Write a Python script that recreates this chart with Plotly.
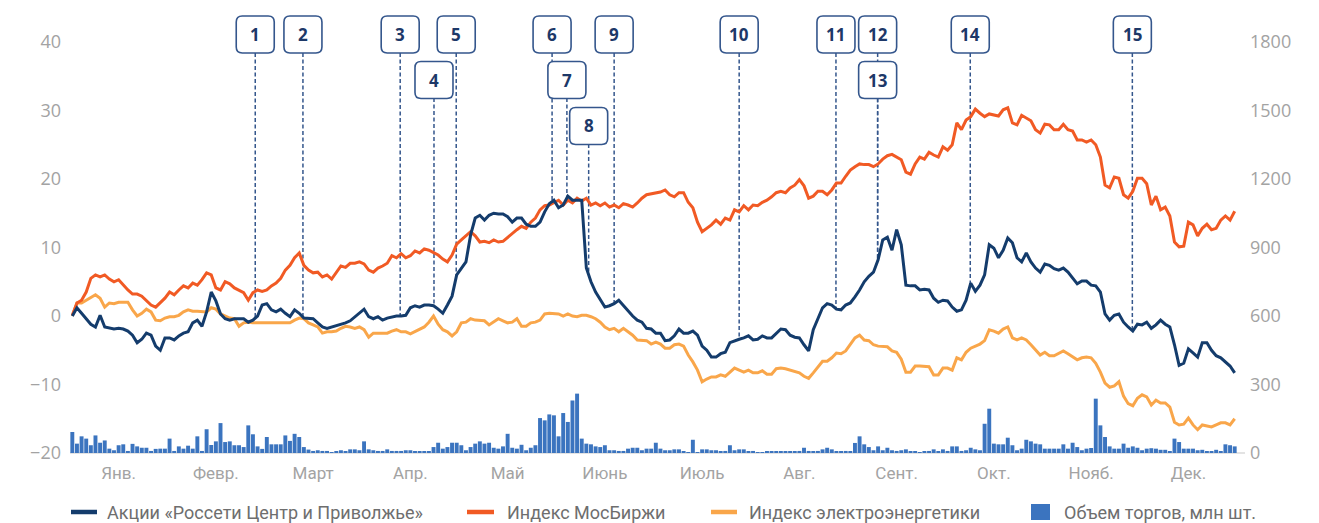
import numpy as np
import plotly.graph_objects as go

# ---- data: one value per trading day, 21 trading days per month ----
months = ["Янв.", "Февр.", "Март", "Апр.", "Май", "Июнь",
          "Июль", "Авг.", "Сент.", "Окт.", "Нояб.", "Дек."]
days_per_month = 21

# change since start of year, %
rosseti = [
    0.0, 1.2, 0.4, -0.4, -1.2, -1.6, 0.1, -1.6, -1.8, -1.9, -1.8, -1.9, -2.2, -2.8, -3.9, -3.4, -2.5, -2.8, -4.4, -5.0, -3.2,
    -3.2, -3.5, -2.9, -2.5, -2.3, -1.0, -0.6, -1.5, 0.6, 3.5, 2.2, 0.3, -0.4, -0.6, -0.4, -0.4, -0.4, -0.9, -0.6, 0.0, 1.6,
    1.8, 0.9, 0.6, 1.0, 0.4, -0.1, 0.9, 0.4, -0.3, -0.3, -0.4, -1.0, -1.6, -1.8, -1.6, -1.5, -1.3, -1.0, -0.7, -0.1, 0.4,
    1.0, -0.1, -0.4, -0.1, -0.6, -0.3, -0.1, 0.0, 0.0, 0.1, 1.2, 1.5, 1.3, 1.6, 1.6, 1.5, 1.0, 0.4, 1.6, 2.9, 6.0,
    7.0, 7.9, 11.8, 14.3, 14.7, 14.0, 14.7, 15.0, 14.9, 14.9, 14.5, 13.7, 14.3, 14.3, 13.4, 13.1, 13.1, 13.7, 15.2, 16.4, 16.9,
    15.8, 16.2, 17.5, 16.9, 16.9, 16.9, 7.0, 5.0, 3.5, 2.3, 1.3, 1.5, 1.8, 2.3, 1.5, 0.7, 0.0, -0.6, -0.9, -1.8, -1.9,
    -2.5, -2.5, -3.6, -3.5, -2.9, -1.9, -2.5, -2.5, -2.2, -2.8, -4.4, -5.0, -6.0, -6.0, -5.5, -5.3, -3.9, -3.6, -3.4, -3.2, -2.9,
    -3.5, -3.4, -2.9, -3.2, -3.2, -2.6, -1.9, -2.0, -2.8, -3.1, -3.2, -4.2, -5.1, -2.0, -0.3, 1.2, 1.8, 1.6, 1.0, 0.9, 1.6,
    1.9, 2.8, 3.8, 5.0, 5.8, 6.4, 8.2, 11.1, 11.5, 9.6, 12.6, 10.4, 4.5, 4.4, 4.4, 3.8, 3.9, 3.8, 2.6, 2.0, 2.3,
    2.2, 1.3, 0.7, 0.9, 2.3, 4.8, 3.6, 4.5, 6.0, 10.4, 9.9, 8.5, 9.6, 11.4, 10.7, 8.5, 7.9, 9.2, 7.9, 7.0, 6.4,
    7.6, 7.4, 6.9, 6.7, 7.0, 6.4, 5.5, 4.7, 5.1, 5.1, 4.5, 4.4, 3.5, 0.3, -0.6, 0.1, 0.3, -0.9, -1.6, -2.2, -1.2,
    -1.3, -0.9, -1.8, -1.3, -0.6, -1.2, -1.6, -4.2, -7.2, -6.9, -4.8, -5.4, -6.0, -3.9, -3.9, -5.0, -5.8, -6.1, -6.7, -7.3, -8.3,
]

moex = [
    0.1, 1.9, 2.3, 3.5, 5.5, 6.0, 5.7, 6.0, 5.4, 5.0, 5.3, 4.5, 3.8, 3.2, 3.2, 2.9, 2.3, 1.6, 1.3, 2.0, 2.6,
    3.5, 3.1, 3.8, 4.4, 4.1, 4.8, 4.5, 5.3, 6.3, 6.0, 4.1, 3.8, 5.0, 4.7, 4.1, 3.8, 3.4, 2.3, 3.4, 3.8, 3.6,
    3.8, 4.4, 4.8, 5.5, 6.7, 7.4, 8.5, 9.2, 7.4, 6.7, 6.3, 6.4, 5.7, 6.0, 5.4, 6.4, 7.3, 7.1, 7.7, 7.7, 7.9,
    7.6, 6.7, 6.4, 7.0, 7.3, 7.7, 8.8, 8.5, 9.1, 8.5, 8.8, 9.5, 9.2, 9.8, 9.6, 9.3, 8.9, 8.3, 7.9, 8.9, 10.5,
    11.1, 11.7, 12.3, 11.7, 10.8, 10.9, 10.7, 11.1, 10.8, 10.9, 11.5, 12.0, 12.6, 13.1, 12.8, 13.7, 14.3, 15.5, 16.1, 16.2, 16.5,
    16.9, 16.2, 16.9, 16.5, 17.2, 16.8, 17.2, 16.2, 16.5, 16.1, 16.5, 15.9, 16.2, 15.8, 16.4, 16.2, 15.9, 16.5, 17.2, 17.7, 17.8,
    18.0, 18.1, 18.4, 17.7, 17.4, 18.0, 18.0, 16.6, 15.8, 13.7, 12.3, 12.8, 13.3, 14.0, 13.4, 14.3, 14.0, 15.5, 15.2, 16.1, 15.5,
    16.2, 16.1, 16.6, 16.9, 17.4, 18.0, 18.2, 18.0, 18.7, 19.1, 19.9, 19.0, 17.2, 17.5, 18.2, 18.2, 17.7, 18.4, 19.4, 19.4, 20.4,
    21.3, 21.8, 22.2, 22.1, 22.1, 21.8, 22.2, 22.9, 23.4, 23.6, 23.2, 22.8, 21.0, 20.7, 22.2, 23.2, 22.9, 23.9, 23.5, 23.2, 24.7,
    24.2, 25.0, 28.2, 27.2, 28.6, 29.1, 30.2, 29.6, 29.1, 29.5, 29.4, 29.2, 30.1, 30.4, 28.2, 27.9, 29.3, 28.9, 28.5, 27.2, 26.7,
    28.0, 27.9, 27.2, 27.2, 28.0, 27.2, 27.0, 25.7, 25.7, 25.4, 25.7, 25.0, 23.2, 19.1, 18.7, 20.3, 20.1, 17.7, 17.2, 18.2, 20.1,
    20.1, 19.3, 16.2, 17.5, 15.5, 15.9, 14.6, 10.8, 10.1, 10.2, 13.7, 13.3, 11.7, 12.8, 13.4, 12.6, 12.8, 14.0, 14.6, 14.0, 15.3,
]

power = [
    0.0, 1.9, 1.9, 2.3, 2.8, 3.1, 2.6, 1.3, 1.9, 1.8, 2.0, 2.0, 2.0, 0.9, 0.0, 0.4, 1.0, 0.6, -0.6, -0.7, -0.3,
    -0.1, -0.1, 0.1, 0.6, 0.9, 0.7, 0.7, 0.7, 0.6, 1.2, 1.0, 0.3, 0.0, -0.3, -0.4, -1.5, -1.0, -0.9, -1.0, -1.0, -0.9,
    -0.9, -1.0, -0.9, -0.9, -1.0, -1.0, -0.6, -0.3, -0.4, -1.0, -1.3, -1.6, -2.5, -2.3, -2.3, -2.2, -1.8, -1.5, -1.6, -1.8, -1.6,
    -2.0, -3.1, -2.5, -2.5, -2.5, -2.5, -2.2, -2.0, -2.3, -2.3, -2.6, -2.3, -1.9, -1.6, -0.9, 0.0, -1.2, -2.0, -2.3, -2.9, -2.3,
    -1.0, -0.9, -0.4, -0.6, -0.6, -0.7, -1.3, -0.9, -0.4, -0.7, -1.0, -0.9, -0.4, -1.5, -1.5, -1.0, -0.9, -0.6, 0.3, 0.4, 0.4,
    0.3, 0.0, 0.3, 0.0, -0.1, 0.1, 0.1, -0.1, -0.4, -0.9, -1.6, -2.0, -1.8, -2.3, -1.8, -2.3, -2.8, -3.5, -3.5, -3.6, -4.1,
    -3.8, -4.1, -4.7, -4.7, -4.2, -4.1, -4.4, -5.7, -6.7, -7.9, -9.6, -9.2, -8.9, -8.9, -8.6, -8.8, -8.2, -7.6, -7.9, -8.2, -7.9,
    -8.3, -8.3, -8.0, -8.5, -8.5, -7.7, -7.6, -7.7, -7.9, -8.0, -8.3, -8.8, -9.1, -8.3, -7.4, -6.6, -6.6, -6.1, -5.4, -5.5, -5.1,
    -4.2, -3.2, -2.8, -3.5, -3.6, -4.2, -4.4, -4.4, -4.5, -5.1, -5.3, -6.3, -8.2, -8.2, -7.3, -7.3, -7.3, -7.4, -8.6, -8.6, -7.6,
    -7.6, -7.9, -6.1, -6.4, -5.3, -4.7, -4.4, -4.1, -3.6, -2.0, -2.2, -2.5, -1.9, -1.6, -3.2, -3.5, -3.2, -3.5, -4.2, -5.0, -5.7,
    -5.3, -5.8, -5.8, -5.5, -5.1, -5.5, -6.0, -6.4, -6.1, -6.0, -6.1, -6.9, -8.2, -9.8, -10.4, -10.2, -9.6, -11.7, -12.8, -13.1, -12.0,
    -11.5, -11.8, -13.0, -12.3, -12.7, -12.7, -13.3, -15.5, -15.9, -15.8, -14.9, -15.9, -16.6, -15.9, -16.1, -16.2, -15.9, -15.6, -15.6, -15.9, -15.0,
]

# trading volume, mln shares
volume = [
    92, 41, 73, 63, 34, 77, 45, 55, 19, 12, 34, 38, 9, 40, 29, 23, 23, 9, 18, 19, 19,
    63, 9, 29, 19, 32, 19, 73, 9, 104, 35, 51, 131, 48, 51, 34, 34, 26, 121, 82, 29, 18,
    70, 38, 38, 38, 77, 53, 84, 70, 26, 15, 9, 12, 9, 9, 4, 5, 12, 8, 16, 16, 12,
    51, 16, 12, 9, 9, 16, 9, 9, 9, 12, 12, 6, 7, 6, 6, 26, 45, 19, 26, 45, 45,
    34, 12, 26, 41, 51, 41, 45, 23, 19, 29, 84, 23, 19, 36, 12, 23, 34, 153, 143, 169, 165,
    73, 175, 136, 230, 260, 63, 41, 38, 29, 26, 34, 12, 12, 9, 9, 19, 23, 23, 12, 19, 19,
    45, 19, 12, 12, 16, 16, 7, 4, 58, 4, 16, 16, 12, 12, 6, 9, 34, 12, 16, 16, 7,
    9, 4, 4, 6, 6, 7, 7, 7, 7, 6, 9, 23, 9, 6, 9, 16, 23, 16, 7, 7, 9,
    7, 44, 73, 38, 26, 12, 29, 12, 23, 12, 9, 12, 16, 7, 6, 4, 7, 9, 16, 7, 16,
    9, 29, 29, 9, 12, 23, 16, 12, 128, 194, 41, 38, 38, 67, 34, 12, 19, 58, 51, 41, 38,
    19, 19, 19, 19, 38, 19, 45, 26, 12, 19, 22, 238, 121, 70, 29, 19, 19, 41, 23, 29, 23,
    12, 19, 21, 19, 14, 14, 7, 63, 48, 19, 19, 19, 12, 14, 7, 6, 14, 7, 38, 34, 29,
]

# corporate events: label, trading-day position, stacking row of the label box
event_labels = ["1", "2", "3", "4", "5", "6", "7", "8", "9", "10", "11", "12", "13", "14", "15"]
event_day = [39.5, 49.8, 70.8, 78.1, 82.9, 103.6, 106.8, 111.5, 117.0, 144.0, 164.9, 173.9, 173.9, 193.9, 228.9]
event_row = [0, 0, 0, 1, 0, 0, 1, 2, 0, 0, 0, 0, 1, 0, 0]

left_ticks = [-20, -10, 0, 10, 20, 30, 40]
right_ticks = [0, 300, 600, 900, 1200, 1500, 1800]

legend_names = ["Акции «Россети Центр и Приволжье»", "Индекс МосБиржи",
                "Индекс электроэнергетики", "Объем торгов, млн шт."]

# ---- styling ----
C_ROSSETI = "#143C6C"
C_MOEX = "#F15A24"
C_POWER = "#F9A64A"
C_VOLUME = "#3B74BF"
C_EVENT = "#34568C"
C_EVENT_TEXT = "#1D3868"
C_TICK = "#A3A3A3"
C_LEGEND = "#6E6E6E"

W, H = 1319, 523
ML, MR, MT, MB = 70, 82, 42, 70
PW, PH = W - ML - MR, H - MT - MB

n = len(rosseti)
x = np.arange(n)


def paper_x(px):
    return (px - ML) / PW


def paper_y(py):
    return (H - MB - py) / PH


def y_value(py):
    # pixel row -> left-axis value
    return 40 - (py - MT) * 60 / PH


fig = go.Figure()
fig.add_trace(go.Bar(x=x, y=volume, yaxis="y2", marker=dict(color=C_VOLUME, line=dict(width=0)),
                     name=legend_names[3], showlegend=False))
fig.add_trace(go.Scatter(x=x, y=power, mode="lines", line=dict(color=C_POWER, width=3),
                         name=legend_names[2], showlegend=False))
fig.add_trace(go.Scatter(x=x, y=moex, mode="lines", line=dict(color=C_MOEX, width=3),
                         name=legend_names[1], showlegend=False))
fig.add_trace(go.Scatter(x=x, y=rosseti, mode="lines", line=dict(color=C_ROSSETI, width=3),
                         name=legend_names[0], showlegend=False))

shapes = []
annotations = []

# event boxes: rows of label boxes above the chart
row_center_px = [34.5, 80.0, 126.0]
row_bottom_px = [53.0, 98.0, 144.0]
bw, bh, r = 19.0, 18.5, 6.0
box_path = (f"M {-bw + r},{-bh} L {bw - r},{-bh} Q {bw},{-bh} {bw},{-bh + r} "
            f"L {bw},{bh - r} Q {bw},{bh} {bw - r},{bh} L {-bw + r},{bh} "
            f"Q {-bw},{bh} {-bw},{bh - r} L {-bw},{-bh + r} Q {-bw},{-bh} {-bw + r},{-bh} Z")

for lab, day, row in zip(event_labels, event_day, event_row):
    end_val = float(np.interp(day, x, rosseti))
    shapes.append(dict(type="line", xref="x", yref="y", x0=day, x1=day,
                       y0=y_value(row_bottom_px[row]), y1=end_val,
                       line=dict(color=C_EVENT, width=1.5, dash="4px,2.5px"), layer="below"))

for lab, day, row in zip(event_labels, event_day, event_row):
    shapes.append(dict(type="path", xref="x", yref="paper", xsizemode="pixel", ysizemode="pixel",
                       xanchor=day, yanchor=paper_y(row_center_px[row]), path=box_path,
                       fillcolor="white", line=dict(color=C_EVENT, width=1.6), layer="above"))
    annotations.append(dict(x=day, y=paper_y(row_center_px[row]), xref="x", yref="paper",
                            xanchor="center", yanchor="middle",
                            text=f"<b>{lab}</b>", showarrow=False,
                            font=dict(family="Open Sans", size=17, color=C_EVENT_TEXT)))

# baseline under the volume bars
shapes.append(dict(type="line", xref="paper", yref="paper", x0=0, x1=paper_x(1245), y0=0, y1=0,
                   line=dict(color="#C8C8C8", width=1.2), layer="below"))

# legend drawn as swatches and labels
legend_y = paper_y(512)
swatches = [(71, 97, C_ROSSETI), (467, 494, C_MOEX), (711, 737, C_POWER)]
for x0, x1, col in swatches:
    shapes.append(dict(type="line", xref="paper", yref="paper", x0=paper_x(x0), x1=paper_x(x1),
                       y0=legend_y, y1=legend_y, line=dict(color=col, width=4.5)))
shapes.append(dict(type="rect", xref="paper", yref="paper", x0=paper_x(1031), x1=paper_x(1050),
                   y0=paper_y(520), y1=paper_y(504), fillcolor=C_VOLUME, line=dict(width=0)))
for name, px in zip(legend_names, [105, 505, 747, 1062]):
    annotations.append(dict(x=paper_x(px), y=legend_y, xref="paper", yref="paper", text=name,
                            showarrow=False, xanchor="left", yanchor="middle",
                            font=dict(family="Roboto", size=18, color=C_LEGEND)))

fig.update_layout(
    width=W, height=H,
    margin=dict(l=ML, r=MR, t=MT, b=MB),
    paper_bgcolor="white", plot_bgcolor="white",
    showlegend=False,
    bargap=0.15,
    shapes=shapes, annotations=annotations,
    xaxis=dict(range=[-0.5, n - 0.5], showgrid=False, zeroline=False, showline=False,
               tickmode="array",
               tickvals=[days_per_month * m + (days_per_month - 1) / 2 for m in range(len(months))],
               ticktext=months, ticks="", ticklabelstandoff=8,
               tickfont=dict(family="Roboto", size=17, color=C_TICK)),
    yaxis=dict(range=[-20, 40], tickvals=left_ticks, showgrid=False, zeroline=False,
               ticks="", ticklabelstandoff=8,
               tickfont=dict(family="Open Sans", size=18, color=C_TICK)),
    yaxis2=dict(range=[0, 1800], tickvals=right_ticks, overlaying="y", side="right",
                showgrid=False, zeroline=False, ticks="", ticklabelstandoff=12,
                tickfont=dict(family="Open Sans", size=18, color=C_TICK)),
)

fig.write_html("out.html")
